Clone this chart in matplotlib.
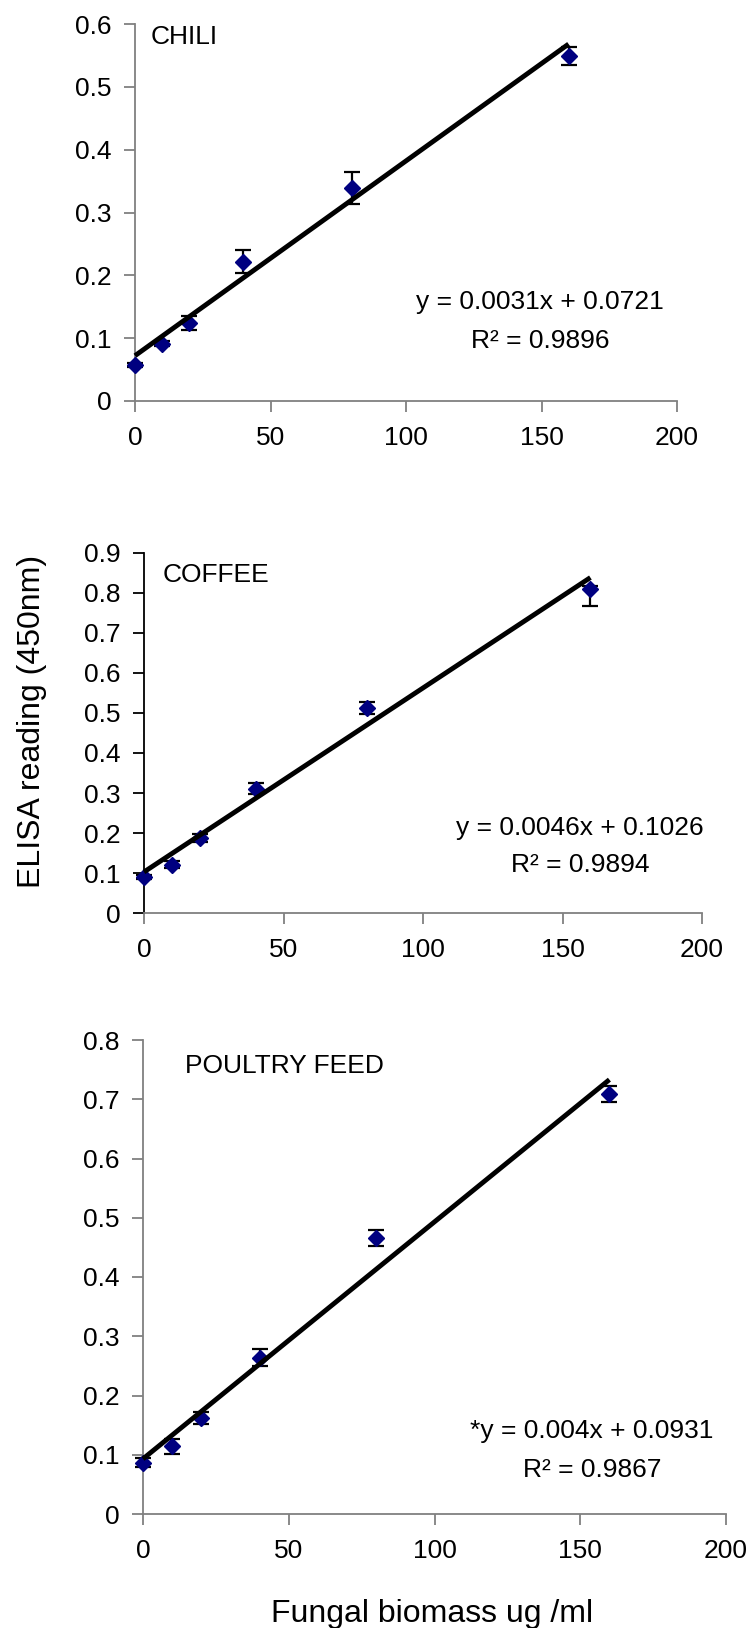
import matplotlib.pyplot as plt
from matplotlib.ticker import FuncFormatter

plt.rcParams['font.family'] = ['Liberation Sans', 'DejaVu Sans']

# fungal biomass (ug/ml)
conc = [0, 10, 20, 40, 80, 160]

# ELISA readings at 450nm, with error bars
chili = [0.057, 0.091, 0.124, 0.222, 0.339, 0.549]
chili_err = [0.003, 0.004, 0.011, 0.019, 0.026, 0.014]

coffee = [0.089, 0.121, 0.1875, 0.311, 0.5125, 0.81]
coffee_err_lo = [0.005, 0.008, 0.011, 0.014, 0.016, 0.042]
coffee_err_hi = [0.005, 0.008, 0.011, 0.014, 0.016, 0.008]

feed = [0.0866, 0.1143, 0.1614, 0.264, 0.4655, 0.7086]
feed_err = [0.008, 0.013, 0.010, 0.015, 0.013, 0.014]

# linear trendlines: slope, intercept, r2
chili_fit = (0.0031, 0.0721, 0.9896)
coffee_fit = (0.0046, 0.1026, 0.9894)
feed_fit = (0.004, 0.0931, 0.9867)

x_ticks = [0, 50, 100, 150, 200]

fig = plt.figure(figsize=(7.5, 16.28), dpi=100)

tick_fmt = FuncFormatter(lambda v, _: f"{round(v, 1):g}")
fs = 19


def panel(rect, y, yerr, fit, ymax, name, name_xy, eq_xy, prefix='', left_col='#808080'):
    ax = fig.add_axes(rect)
    ax.errorbar(conc, y, yerr=yerr, fmt='none', ecolor='black', elinewidth=1.6,
                capsize=6, capthick=1.6, zorder=2, clip_on=False)
    ax.plot(conc, y, 'D', color='#000080', markersize=8.2, zorder=3, clip_on=False)
    m, b, r2 = fit
    ax.plot([conc[0], conc[-1]], [b, m * conc[-1] + b], color='black', lw=3.5,
            solid_capstyle='butt', zorder=4, clip_on=False)

    ax.set_xlim(0, 200)
    ax.set_ylim(0, ymax)
    ax.set_xticks(x_ticks)
    ax.set_yticks([i / 10 for i in range(int(round(ymax * 10)) + 1)])
    ax.yaxis.set_major_formatter(tick_fmt)
    ax.tick_params(direction='out', length=8, width=1.3, labelsize=fs, pad=9)
    ax.tick_params(axis='x', colors='#808080', labelcolor='black', pad=10)
    ax.tick_params(axis='y', colors=left_col, labelcolor='black')

    for s in ['top', 'right']:
        ax.spines[s].set_visible(False)
    ax.spines['bottom'].set_color('#808080')
    ax.spines['left'].set_color(left_col)
    ax.spines['bottom'].set_linewidth(1.3)
    ax.spines['left'].set_linewidth(1.3)

    ax.text(name_xy[0], name_xy[1], name, transform=ax.transAxes,
            fontsize=fs, ha='left', va='center')
    ax.text(eq_xy[0], eq_xy[1], f"{prefix}y = {m:g}x + {b:g}", transform=ax.transAxes,
            fontsize=fs, ha='center', va='center')
    ax.text(eq_xy[0], eq_xy[2], f"R\u00b2 = {r2:g}", transform=ax.transAxes,
            fontsize=fs, ha='center', va='center')
    return ax


H = 1628
W = 750

panel([135 / W, 1 - 401 / H, 542 / W, 377 / H], chili, chili_err, chili_fit, 0.6,
      'CHILI', (0.028, 0.965), (0.747, 0.263, 0.159))

panel([144 / W, 1 - 913 / H, 558 / W, 360 / H], coffee, [coffee_err_lo, coffee_err_hi],
      coffee_fit, 0.9, 'COFFEE', (0.034, 0.939), (0.781, 0.236, 0.133), left_col='black')

panel([143 / W, 1 - 1514 / H, 583 / W, 474 / H], feed, feed_err, feed_fit, 0.8,
      'POULTRY FEED', (0.072, 0.945), (0.770, 0.175, 0.093), prefix='*')

fig.text(32 / W, 1 - 721 / H, 'ELISA reading (450nm)', rotation=90,
         fontsize=23, ha='center', va='center')
fig.text(432 / W, 1 - 1622 / H, 'Fungal biomass ug /ml', fontsize=23,
         ha='center', va='baseline')

fig.savefig('out.png', dpi=100)
